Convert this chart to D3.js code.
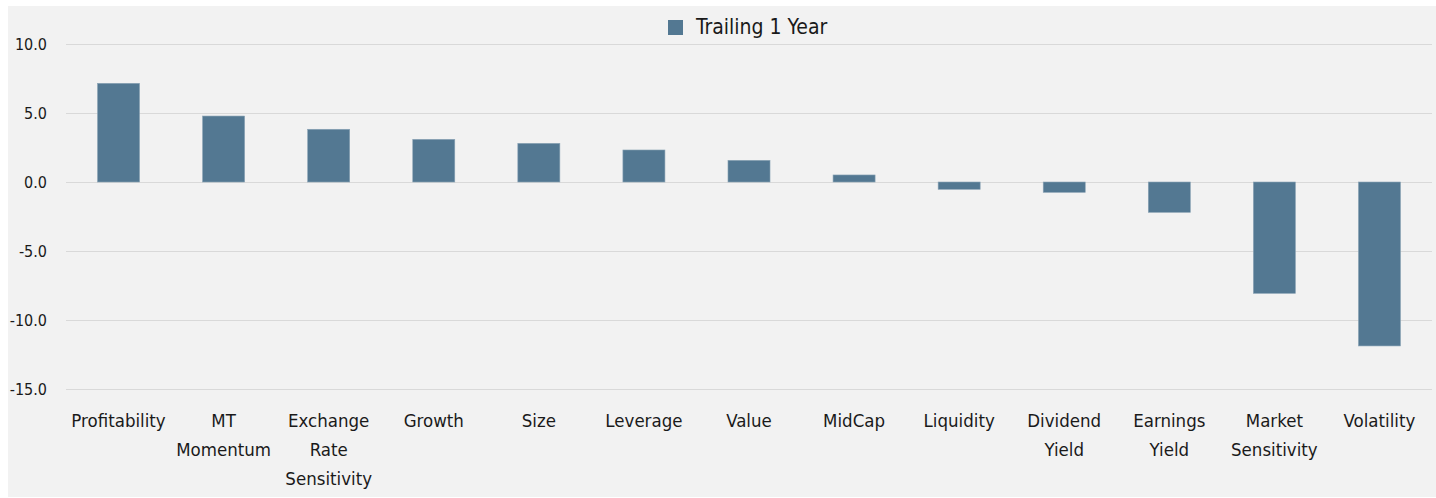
<!DOCTYPE html>
<html>
<head>
<meta charset="utf-8">
<script src="https://cdn.jsdelivr.net/npm/d3@7"></script>
<style>
  body { margin: 0; background: #fff; }
  text { font-family: "DejaVu Sans Condensed", "Liberation Sans Narrow", sans-serif; fill: #1a1a1a; }
</style>
</head>
<body>
<div id="chart"></div>
<script>
const categories = [
  ['Profitability'], ['MT', 'Momentum'], ['Exchange', 'Rate', 'Sensitivity'], ['Growth'], ['Size'],
  ['Leverage'], ['Value'], ['MidCap'], ['Liquidity'], ['Dividend', 'Yield'], ['Earnings', 'Yield'],
  ['Market', 'Sensitivity'], ['Volatility']
];
const trailing1Year = [7.15, 4.78, 3.82, 3.09, 2.8, 2.32, 1.57, 0.51, -0.53, -0.75, -2.2, -8.07, -11.88];
const yTicks = [10, 5, 0, -5, -10, -15];
const seriesName = 'Trailing 1 Year';

const W = 1436, H = 498;
const barColor = '#537892';
const fontFam = '"DejaVu Sans Condensed", "Liberation Sans Narrow", sans-serif';

const svg = d3.select('#chart').append('svg')
  .attr('width', W)
  .attr('height', H);

svg.append('rect')
  .attr('x', 8).attr('y', 6)
  .attr('width', W - 8).attr('height', 491)
  .attr('fill', '#f2f2f2');

const x = d3.scaleBand()
  .domain(d3.range(categories.length))
  .range([66, 1432])
  .paddingInner(0.6)
  .paddingOuter(0.3);

const y = d3.scaleLinear()
  .domain([-15, 10])
  .range([389, 44]);

// gridlines + tick labels (plain hyphen for negatives, like the original)
const yAxis = svg.append('g')
  .attr('transform', 'translate(66,0)')
  .call(d3.axisLeft(y).tickValues(yTicks).tickFormat(d => d.toFixed(1)).tickSize(-(1432 - 66)).tickPadding(19));
yAxis.select('.domain').remove();
yAxis.selectAll('.tick line').attr('stroke', '#d9d9d9').attr('stroke-width', 1.2);
yAxis.selectAll('.tick text')
  .style('font-family', fontFam)
  .style('font-size', '16px')
  .attr('fill', '#1a1a1a');

// bars
svg.append('g').selectAll('rect')
  .data(trailing1Year)
  .join('rect')
  .attr('x', (d, i) => x(i))
  .attr('width', x.bandwidth())
  .attr('y', d => y(Math.max(0, d)))
  .attr('height', d => Math.abs(y(d) - y(0)))
  .attr('fill', barColor)
  .attr('stroke', '#8aa3b5')
  .attr('stroke-width', 0.6);

// category labels
const labels = svg.append('g').selectAll('text')
  .data(categories)
  .join('text')
  .attr('text-anchor', 'middle')
  .attr('font-size', 18.5)
  .attr('x', (d, i) => x(i) + x.bandwidth() / 2)
  .attr('y', 427);
labels.selectAll('tspan')
  .data(d => d)
  .join('tspan')
  .attr('x', function () { return d3.select(this.parentNode).attr('x'); })
  .attr('dy', (d, i) => i === 0 ? 0 : 29)
  .text(d => d);

// legend
const legend = svg.append('g');
legend.append('rect')
  .attr('x', 668).attr('y', 20)
  .attr('width', 15).attr('height', 15)
  .attr('fill', barColor);
legend.append('text')
  .attr('x', 696).attr('y', 34)
  .attr('font-size', 21)
  .text(seriesName);
</script>
</body>
</html>
